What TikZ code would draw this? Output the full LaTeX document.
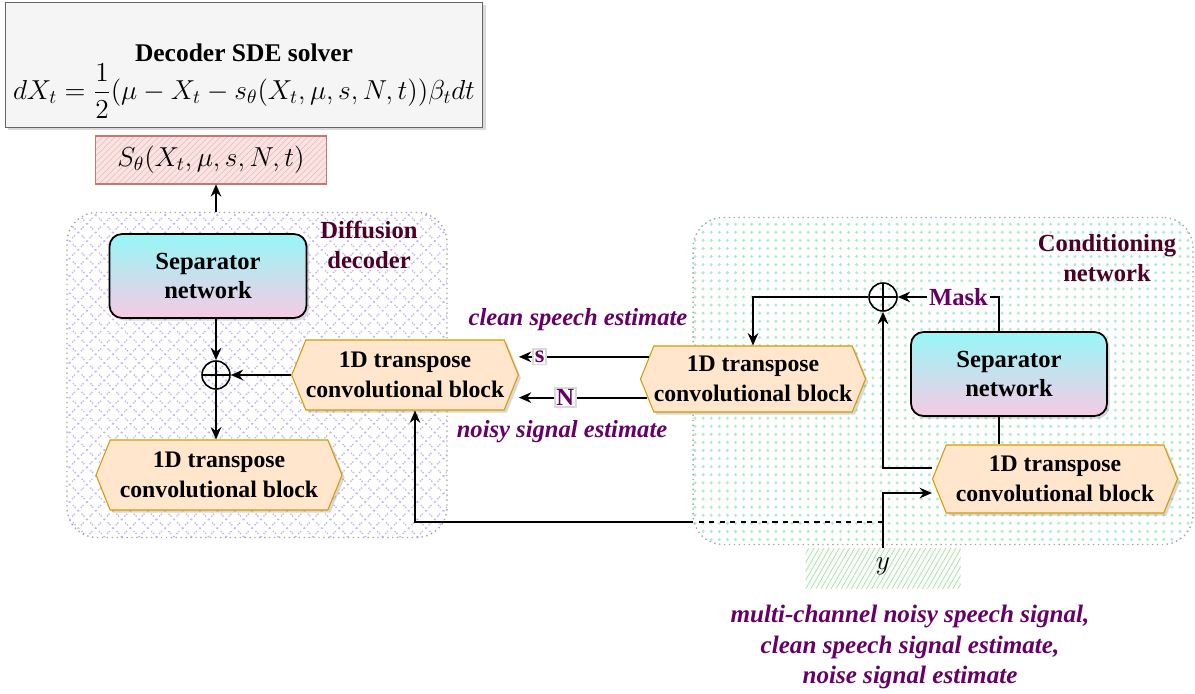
\RequirePackage{fix-cm}
\documentclass[tikz,border=0pt]{standalone}
\usepackage{amsmath}
\usepackage{fontspec}
\setmainfont{Liberation Serif}
\usetikzlibrary{shapes,arrows.meta,positioning,calc,patterns.meta,shadows}

\definecolor{hexfill}{HTML}{FFE6CC}
\definecolor{hexline}{HTML}{D79B00}
\definecolor{labpurple}{HTML}{660066}
\definecolor{groupcol}{HTML}{4C0027}
\definecolor{septop}{HTML}{96F7F7}
\definecolor{sepbot}{HTML}{F7CAE4}
\definecolor{solverfill}{HTML}{F5F5F5}
\definecolor{scorefill}{HTML}{FBE3E2}
\definecolor{scoreline}{HTML}{B85450}
\definecolor{hatchpurple}{HTML}{C6B5F3}
\definecolor{dotgreen}{HTML}{ADEDCE}
\definecolor{yhatch}{HTML}{B5CFB5}

\tikzset{
  conn/.style={line width=1.1pt, -{Stealth[length=7pt,width=6pt]}},
  link/.style={line width=1.1pt},
  shadowed/.style={drop shadow={opacity=0.3,shadow xshift=1.5pt,shadow yshift=-1.5pt}},
  hexblock/.style={signal, signal to=west and east, signal pointer angle=136,
    fill=hexfill, draw=hexline, line width=0.6pt, shadowed, align=center,
    minimum height=1.4cm, inner sep=0pt,
    font=\fontsize{13.5}{17}\selectfont\bfseries},
  sepbox/.style={rectangle, rounded corners=0.25cm, top color=septop, bottom color=sepbot,
    draw=black, line width=1pt, shadowed, align=center,
    minimum width=3.94cm, minimum height=1.68cm,
    font=\fontsize{14}{17}\selectfont\bfseries},
  sumnode/.style={circle, draw, line width=0.9pt, minimum size=0.56cm, inner sep=0pt,
    path picture={\draw[line width=0.9pt] (path picture bounding box.north) -- (path picture bounding box.south)
      (path picture bounding box.west) -- (path picture bounding box.east);}},
  groupbox/.style={rectangle, rounded corners=0.6cm, draw=gray!70, dotted, line width=0.8pt,
    preaction={fill=white}},
  groupname/.style={align=center, text=groupcol, font=\fontsize{14}{17}\selectfont\bfseries},
  estlabel/.style={text=labpurple, font=\fontsize{14}{17}\selectfont\bfseries\itshape},
  sigtag/.style={fill=white, draw=gray!30, inner sep=1pt, text=labpurple,
    font=\fontsize{14}{16}\selectfont\bfseries},
}

\begin{document}
\begin{tikzpicture}[x=0.02cm,y=-0.02cm]
\useasboundingbox (0,0) rectangle (1195,693);

% decoder solver and score
\node[rectangle, fill=solverfill, draw=gray!80!black, line width=0.6pt, shadowed,
  minimum width=9.56cm, minimum height=2.5cm] (solver) at (244,65) {};
\node[align=center, font=\fontsize{14.5}{20}\selectfont] (solvertext) at (244,81)
  {\textbf{Decoder SDE solver}\\[0pt]
   \fontsize{15.6}{20}\selectfont$dX_t=\dfrac{1}{2}(\mu-X_t-s_\theta(X_t,\mu,s,N,t))\beta_t dt$};
\node[rectangle, draw=scoreline!80, line width=0.6pt,
  preaction={fill=scorefill},
  pattern={Lines[angle=45,distance=2.5pt,line width=0.3pt]}, pattern color=scoreline!40,
  minimum width=4.62cm, minimum height=0.96cm] (score) at (211,160) {};
\node[font=\fontsize{15.6}{17}\selectfont] (scoretext) at (211,160) {$S_\theta(X_t,\mu,s,N,t)$};

% groups
\node[groupbox, pattern={Hatch[angle=45,distance=7pt,line width=0.8pt]}, pattern color=hatchpurple,
  minimum width=7.6cm, minimum height=6.5cm] (diff) at (257,375) {};
\node[groupbox, pattern={Dots[distance=4.6pt,radius=0.95pt]}, pattern color=dotgreen,
  minimum width=10cm, minimum height=6.54cm] (cond) at (943,381) {};
\node[groupname] (difflabel) at (369,245) {Diffusion\\decoder};
\node[groupname] (condlabel) at (1107,258) {Conditioning\\network};

% diffusion decoder
\node[sepbox] (sepL) at (208,276) {Separator\\network};
\node[sumnode] (sumL) at (216,375) {};
\node[hexblock, minimum width=4.92cm] (hexB) at (219,475) {1D transpose\\convolutional block};
\node[hexblock, minimum width=4.48cm] (hexM) at (405,375) {1D transpose\\convolutional block};

% conditioning network
\node[hexblock, minimum width=4.5cm, minimum height=1.32cm] (hexR) at (753,379) {1D transpose\\convolutional block};
\node[sumnode] (sumR) at (883,297) {};
\node[sepbox, minimum width=3.92cm] (sepR) at (1009,374) {Separator\\network};
\node[hexblock, minimum width=4.9cm, minimum height=1.36cm] (hexC) at (1055,479) {1D transpose\\convolutional block};

% input
\node[rectangle, preaction={fill=green!4}, pattern={Lines[angle=60,distance=2.5pt,line width=0.35pt]},
  pattern color=yhatch, minimum width=3.1cm, minimum height=0.8cm] (yin) at (883,568) {};
\node[font=\fontsize{15.6}{17}\selectfont] (ytext) at (883,566) {$y$};
\coordinate (ysplit) at (883,522);

% texts
\node[estlabel] (cleanlab) at (578,320) {clean speech estimate};
\node[estlabel] (noisylab) at (562,432) {noisy signal estimate};
\node[estlabel, align=center, font=\fontsize{14.3}{17.2}\selectfont\bfseries\itshape] (inputnote) at (910,647)
  {multi-channel noisy speech signal,\\clean speech signal estimate,\\noise signal estimate};

% connections
\draw[conn] (diff.north -| sumL) -- (score.south -| sumL);
\draw[conn] (sepL.south -| sumL) -- (sumL.north);
\draw[conn] (sumL.south) -- (hexB.north -| sumL);
\draw[conn] (hexM.west) -- (sumL.east);
\draw[conn] (hexR.168) -- node[pos=0.84, sigtag] {s} (hexR.168 -| hexM.east);
\draw[conn] (hexR.190) -- node[pos=0.64, sigtag] {N} (hexR.190 -| hexM.east);
\draw[conn] ([xshift=-0.2cm]sepR.north) |- node[pos=0.7, sigtag, draw=none] {Mask} (sumR.east);
\draw[link] ([xshift=-0.2cm]sepR.south) -- ([xshift=-0.2cm]sepR.south |- hexC.north);
\draw[conn] ([yshift=0.22cm]hexC.west) -| (sumR.south);
\draw[conn] (sumR.west) -| (hexR.north);
\draw[conn] (yin.north) |- ([yshift=-0.28cm]hexC.west);
\draw[link, dashed] (ysplit) -- (ysplit -| cond.west);
\draw[conn] (ysplit -| cond.west) -| ([xshift=0.2cm]hexM.south);
\end{tikzpicture}
\end{document}
